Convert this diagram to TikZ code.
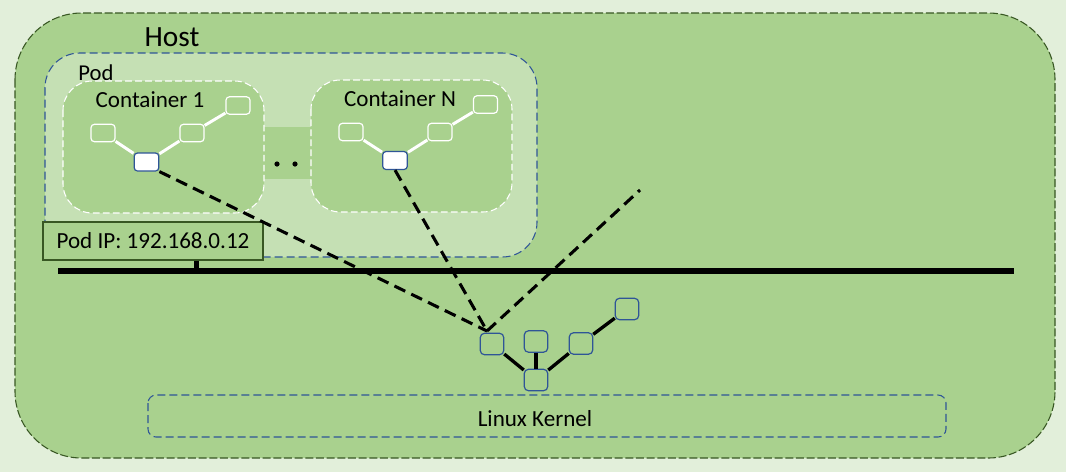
\documentclass[tikz,border=0pt]{standalone}
\usepackage{fontspec}
\setmainfont{Carlito}
\usetikzlibrary{calc}
\definecolor{bgc}{HTML}{E2EFDA}
\definecolor{hostc}{HTML}{A9D18E}
\definecolor{podc}{HTML}{C5E0B4}
\definecolor{dgreen}{HTML}{385723}
\definecolor{dblue}{HTML}{2F5597}
\tikzset{
  wbox/.style={draw=white, line width=0.9pt, fill=hostc, rounded corners=2.5pt, minimum width=18pt, minimum height=13pt, inner sep=0pt},
  ipbox/.style={draw=dblue, line width=0.9pt, fill=white, rounded corners=2.5pt, minimum width=18.5pt, minimum height=13.5pt, inner sep=0pt},
  tbox/.style={draw=dblue, line width=0.9pt, fill=hostc, rounded corners=3pt, minimum width=17.5pt, minimum height=16pt, inner sep=0pt},
  wline/.style={draw=white, line width=2.2pt},
  bline/.style={draw=black, line width=2.5pt},
  dline/.style={draw=black, line width=2.3pt, dash pattern=on 9pt off 5pt},
  lbl/.style={inner sep=0pt, font=\fontsize{17.3}{20}\selectfont},
}
\begin{document}
\begin{tikzpicture}[x=0.75pt, y=-0.75pt]
\useasboundingbox (0,0) rectangle (1066,472);
\fill[bgc] (0,0) rectangle (1066,472);
% host
\draw[fill=hostc, draw=dgreen, line width=0.8pt, dash pattern=on 6pt off 2pt, rounded corners=50pt] (15,13) rectangle (1055,458);
\node[inner sep=0pt, font=\fontsize{22}{26}\selectfont] (host) at (172,37) {Host};
% pod
\draw[fill=podc, draw=dblue, line width=0.8pt, dash pattern=on 6pt off 3pt, rounded corners=26pt] (45,53) rectangle (537,257);
\node[inner sep=0pt, font=\fontsize{17}{20}\selectfont] (pod) at (96,73) {Pod};
% band between containers
\fill[hostc] (262,127) rectangle (313,179);
\fill[black] (277,164) circle (2.6);
\fill[black] (295,164) circle (2.6);
% containers
\draw[fill=hostc, draw=white, line width=0.8pt, dash pattern=on 5pt off 2.5pt, rounded corners=22pt] (63,81) rectangle (264,213);
\draw[fill=hostc, draw=white, line width=0.8pt, dash pattern=on 5pt off 2.5pt, rounded corners=22pt] (311,80) rectangle (512,212);
\node[lbl] (c1t) at (150,100) {Container 1};
\node[lbl] (cNt) at (400,99) {Container N};
% container 1 tree
\node[wbox] (c1a) at (103,133) {};
\node[ipbox] (c1b) at (146.5,162) {};
\node[wbox] (c1c) at (192,133) {};
\node[wbox] (c1d) at (238,105.5) {};
\draw[wline] (c1a) -- (c1b);
\draw[wline] (c1b) -- (c1c);
\draw[wline] (c1c) -- (c1d);
% container N tree
\node[wbox] (cNa) at (351,132) {};
\node[ipbox] (cNb) at (395,160.5) {};
\node[wbox] (cNc) at (440,132) {};
\node[wbox] (cNd) at (485.5,104.5) {};
\draw[wline] (cNa) -- (cNb);
\draw[wline] (cNb) -- (cNc);
\draw[wline] (cNc) -- (cNd);
% pod ip
\node[draw=dgreen, line width=0.8pt, fill=hostc, minimum width=165pt, minimum height=28.5pt, inner sep=0pt] (podip) at (153,241) {};
\node[lbl] (podipt) at (153,241) {Pod IP: 192.168.0.12};
% bus
\coordinate (busL) at (58,271);
\coordinate (busR) at (1014,271);
\draw[black, line width=3.9pt] (busL) -- (busR);
\coordinate (stub) at ($(podip.south west)!0.695!(podip.south east)$);
\draw[black, line width=3.9pt] (stub) -- (stub |- busL);
% linux kernel
\draw[fill=hostc, draw=dblue, line width=0.8pt, dash pattern=on 6pt off 3pt, rounded corners=6pt] (148,395) rectangle (946,437);
\node[lbl] (lk) at (535,419) {Linux Kernel};
% host tree
\node[tbox] (tl) at (492,344) {};
\node[tbox] (tm) at (536,341.5) {};
\node[tbox] (tb) at (536,380) {};
\node[tbox] (tr) at (581,343.5) {};
\node[tbox] (tf) at (627,309) {};
\draw[bline] (tl) -- (tb);
\draw[bline] (tm) -- (tb);
\draw[bline] (tb) -- (tr);
\draw[bline] (tr) -- (tf);
% dashed links
\coordinate (hub) at (487,331);
\coordinate (free) at (640,190);
\draw[dline] (c1b.south east) -- (hub);
\draw[dline] (cNb.south) -- (hub);
\draw[dline] (hub) -- (free);
\end{tikzpicture}
\end{document}
